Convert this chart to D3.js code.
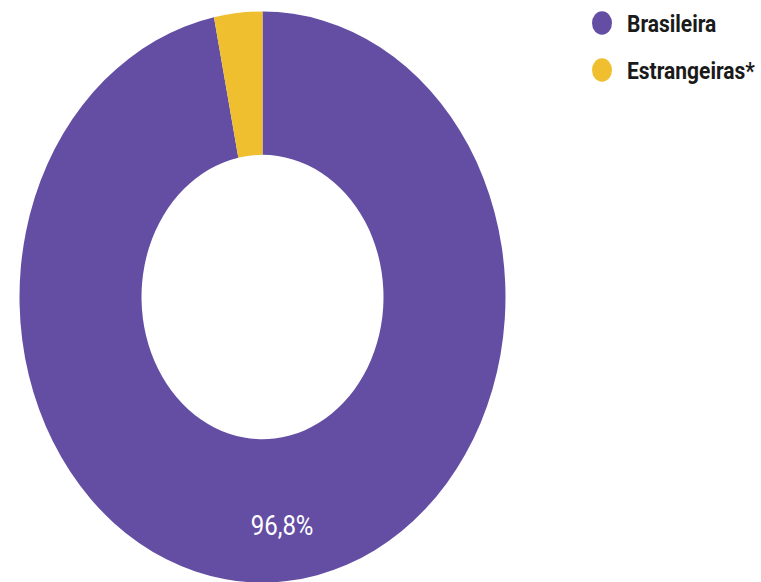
<!DOCTYPE html>
<html>
<head>
<meta charset="utf-8">
<script src="https://cdn.jsdelivr.net/npm/d3@7"></script>
<style>
  html, body { margin: 0; padding: 0; background: #fff; }
  svg { display: block; font-family: Roboto, "Noto Sans", sans-serif; }
</style>
</head>
<body>
<div id="chart"></div>
<script>
// Dados do gráfico
const categories = ['Brasileira', 'Estrangeiras*'];
const values = [96.8, 3.2];
const colors = ['#644ea4', '#efbf2f'];
const labels = ['96,8%', ''];

const width = 761, height = 582;
const stretchY = 1.175; // a figura original está esticada na vertical

const svg = d3.select('#chart').append('svg')
    .attr('width', width)
    .attr('height', height);

const g = svg.append('g').attr('transform', `scale(1, ${stretchY})`);

const cx = 262.5, cy = 252.8;
const outerR = 243, innerR = 121, labelR = 195;

const pie = d3.pie().sort(null).value(d => d.value);
const arc = d3.arc().innerRadius(innerR).outerRadius(outerR);
const labelArc = d3.arc().innerRadius(labelR).outerRadius(labelR);

const data = categories.map((c, i) => ({ name: c, value: values[i], color: colors[i], label: labels[i] }));
const arcs = pie(data);

const donut = g.append('g').attr('transform', `translate(${cx}, ${cy})`);

donut.selectAll('path')
    .data(arcs)
    .enter()
    .append('path')
    .attr('d', arc)
    .attr('fill', d => d.data.color);

donut.selectAll('text')
    .data(arcs.filter(d => d.data.label))
    .enter()
    .append('text')
    .attr('transform', d => `translate(${labelArc.centroid(d)})`)
    .attr('dy', '0.35em')
    .attr('text-anchor', 'middle')
    .attr('fill', '#fff')
    .attr('font-size', '24px')
    .text(d => d.data.label);

// Legenda
const legend = g.append('g').attr('transform', 'translate(602, 19.6)');
const item = legend.selectAll('g')
    .data(data)
    .enter()
    .append('g')
    .attr('transform', (d, i) => `translate(0, ${i * 40})`);

item.append('circle')
    .attr('r', 10)
    .attr('fill', d => d.color);

item.append('text')
    .attr('x', 25)
    .attr('y', 7.6)
    .attr('font-size', '21px')
    .attr('font-weight', 'bold')
    .attr('fill', '#1a1a1a')
    .text(d => d.name);
</script>
</body>
</html>
